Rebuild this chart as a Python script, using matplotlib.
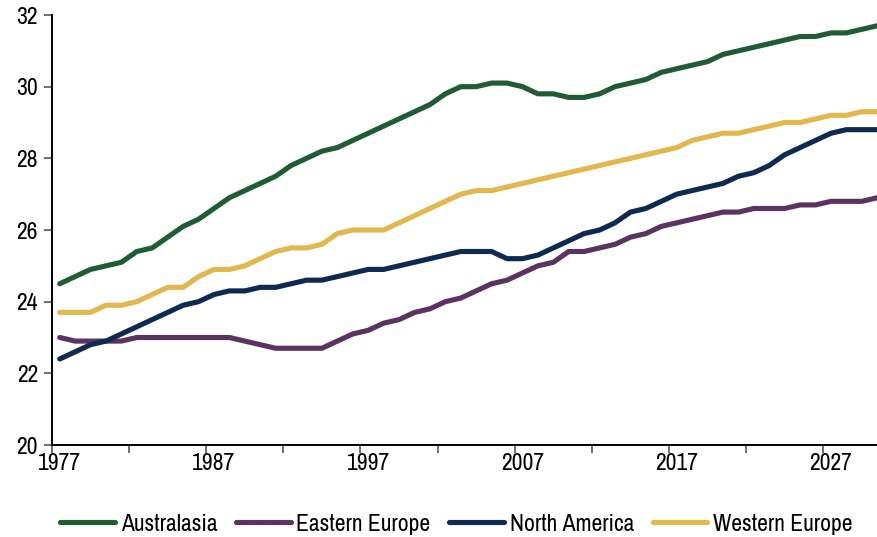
import matplotlib
matplotlib.use("Agg")
import matplotlib.pyplot as plt
from matplotlib import font_manager
from matplotlib.ticker import FixedLocator, NullFormatter

# the reference uses a narrow sans; take one if installed
narrow = None
stretch = 'normal'
for f in font_manager.fontManager.ttflist:
    if 'Narrow' in f.name:
        narrow = f.name
        break
if narrow is None:
    for f in font_manager.fontManager.ttflist:
        if f.name == 'DejaVu Sans' and f.stretch in ('condensed', 'semi-condensed'):
            narrow = 'DejaVu Sans'
            stretch = 'condensed'
            break
if narrow is None:
    narrow = 'DejaVu Sans'
plt.rcParams['font.family'] = [narrow, 'DejaVu Sans']
plt.rcParams['font.stretch'] = stretch
fsize = 17 if 'Narrow' in narrow else 13

years = list(range(1977, 2031))

australasia = [24.5, 24.7, 24.9, 25.0, 25.1, 25.4, 25.5, 25.8, 26.1, 26.3,
               26.6, 26.9, 27.1, 27.3, 27.5, 27.8, 28.0, 28.2, 28.3, 28.5,
               28.7, 28.9, 29.1, 29.3, 29.5, 29.8, 30.0, 30.0, 30.1, 30.1,
               30.0, 29.8, 29.8, 29.7, 29.7, 29.8, 30.0, 30.1, 30.2, 30.4,
               30.5, 30.6, 30.7, 30.9, 31.0, 31.1, 31.2, 31.3, 31.4, 31.4,
               31.5, 31.5, 31.6, 31.7]

eastern_europe = [23.0, 22.9, 22.9, 22.9, 22.9, 23.0, 23.0, 23.0, 23.0, 23.0,
                  23.0, 23.0, 22.9, 22.8, 22.7, 22.7, 22.7, 22.7, 22.9, 23.1,
                  23.2, 23.4, 23.5, 23.7, 23.8, 24.0, 24.1, 24.3, 24.5, 24.6,
                  24.8, 25.0, 25.1, 25.4, 25.4, 25.5, 25.6, 25.8, 25.9, 26.1,
                  26.2, 26.3, 26.4, 26.5, 26.5, 26.6, 26.6, 26.6, 26.7, 26.7,
                  26.8, 26.8, 26.8, 26.9]

north_america = [22.4, 22.6, 22.8, 22.9, 23.1, 23.3, 23.5, 23.7, 23.9, 24.0,
                 24.2, 24.3, 24.3, 24.4, 24.4, 24.5, 24.6, 24.6, 24.7, 24.8,
                 24.9, 24.9, 25.0, 25.1, 25.2, 25.3, 25.4, 25.4, 25.4, 25.2,
                 25.2, 25.3, 25.5, 25.7, 25.9, 26.0, 26.2, 26.5, 26.6, 26.8,
                 27.0, 27.1, 27.2, 27.3, 27.5, 27.6, 27.8, 28.1, 28.3, 28.5,
                 28.7, 28.8, 28.8, 28.8]

western_europe = [23.7, 23.7, 23.7, 23.9, 23.9, 24.0, 24.2, 24.4, 24.4, 24.7,
                  24.9, 24.9, 25.0, 25.2, 25.4, 25.5, 25.5, 25.6, 25.9, 26.0,
                  26.0, 26.0, 26.2, 26.4, 26.6, 26.8, 27.0, 27.1, 27.1, 27.2,
                  27.3, 27.4, 27.5, 27.6, 27.7, 27.8, 27.9, 28.0, 28.1, 28.2,
                  28.3, 28.5, 28.6, 28.7, 28.7, 28.8, 28.9, 29.0, 29.0, 29.1,
                  29.2, 29.2, 29.3, 29.3]

series = [
    ('Australasia', australasia, '#1F5C35'),
    ('Eastern Europe', eastern_europe, '#5A3360'),
    ('North America', north_america, '#0E2A50'),
    ('Western Europe', western_europe, '#E2B84C'),
]

label_years = [1977, 1987, 1997, 2007, 2017, 2027]

fig = plt.figure(figsize=(8.78, 5.37), dpi=100)
ax = fig.add_axes([52 / 878, 1 - 445 / 537, 1 - 52 / 878, 430 / 537])

for name, vals, col in series:
    ax.plot(years, vals, color=col, lw=3.7, label=name,
            solid_capstyle='round', solid_joinstyle='round')

ax.set_xlim(1976.5, 2030.05)
ax.set_ylim(20, 32)
ax.set_yticks(range(20, 33, 2))

# category style axis: labels every 10 years, tick marks on boundaries every 5
ax.set_xticks(label_years)
ax.tick_params(axis='x', which='major', length=0, pad=6)
ax.xaxis.set_minor_locator(FixedLocator([y - 0.5 for y in range(1977, 2031, 5)]))
ax.xaxis.set_minor_formatter(NullFormatter())
ax.tick_params(axis='x', which='minor', length=6, width=1.2, color='#555555')
ax.tick_params(axis='y', length=6, width=1.2, color='#555555', pad=4)
ax.tick_params(labelsize=fsize, labelcolor='black')

for s in ['top', 'right']:
    ax.spines[s].set_visible(False)
for s in ['left', 'bottom']:
    ax.spines[s].set_linewidth(1.4)
    ax.spines[s].set_color('black')

fig.legend(loc='lower center', bbox_to_anchor=(0.52, -0.035), ncol=4, frameon=False,
           fontsize=fsize, handlelength=2.3, handletextpad=0.25, columnspacing=0.8)

plt.savefig('out.png', dpi=100)
